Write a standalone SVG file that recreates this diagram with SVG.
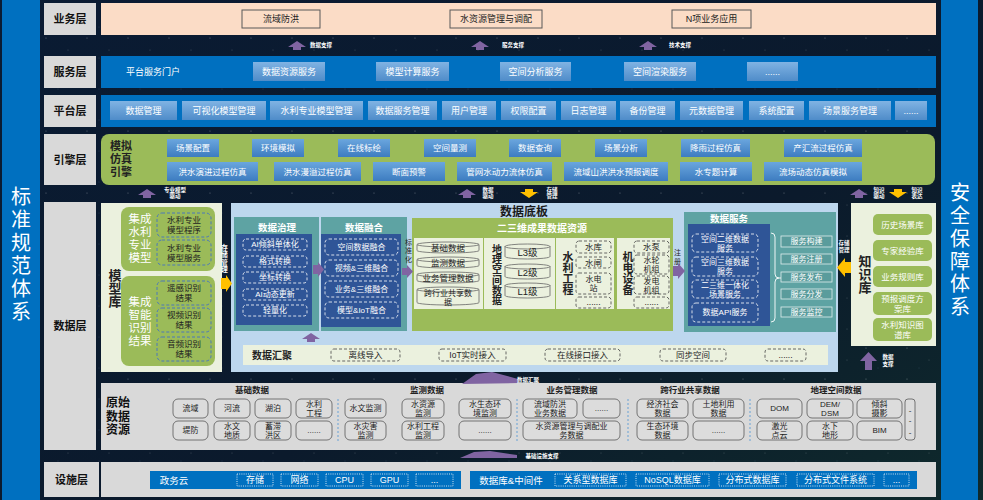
<svg xmlns="http://www.w3.org/2000/svg" width="983" height="500" viewBox="0 0 983 500">
<defs>
<linearGradient id="bg" x1="0" y1="0" x2="1" y2="1"><stop offset="0" stop-color="#0a1b33"/><stop offset="0.6" stop-color="#0b1a2c"/><stop offset="1" stop-color="#0f2a2c"/></linearGradient>
<pattern id="stars" width="41" height="31" patternUnits="userSpaceOnUse"><circle cx="5" cy="7" r="0.6" fill="#fff" opacity="0.35"/><circle cx="27" cy="19" r="0.5" fill="#fff" opacity="0.25"/><circle cx="17" cy="27" r="0.4" fill="#9cf" opacity="0.3"/></pattern>
<linearGradient id="btn" x1="0" y1="0" x2="0" y2="1"><stop offset="0" stop-color="#80b3e3"/><stop offset="1" stop-color="#4f8cc9"/></linearGradient>
<linearGradient id="ebtn" x1="0" y1="0" x2="0" y2="1"><stop offset="0" stop-color="#6aa6de"/><stop offset="1" stop-color="#3d7cc0"/></linearGradient>
<path id="up" d="M-9,2 L0,-4 L9,2 L4,2 L4,5 L-4,5 L-4,2 Z" fill="#8064a2"/>
<path id="dn" d="M-4,-4 L4,-4 L4,-1 L9,-1 L0,5 L-9,-1 L-4,-1 Z" fill="#ffc000"/>
<style>
text,tspan{font-family:"Liberation Sans","Noto Sans CJK SC",sans-serif;text-anchor:middle;dominant-baseline:central}
.v{writing-mode:vertical-rl}
.lay{fill:#d9d9d9}
.ll{font-size:11px;font-weight:bold;fill:#111}
.band{fill:#0070c0}
.b{fill:url(#btn)}
.eb{fill:url(#ebtn)}
.wt{fill:#fff;font-size:9px}
.et{fill:#fff;font-size:8.5px}
.tiny{fill:#fff;font-size:5.5px;font-weight:bold}
.big{fill:#fff;font-size:20px}
.bt{fill:none;stroke:#595959;stroke-width:1}
.btx{fill:#222;font-size:9px}
.dsh{fill:none;stroke:#fff;stroke-dasharray:3 2;stroke-width:0.8}
.dk{fill:#2f5597}
.teal{fill:#5ea3a3}
.pale{fill:#ebf1de}
.grn{fill:#9bbb59}
.gd{fill:#ebf1de;stroke:#444;stroke-dasharray:3 2;stroke-width:0.8}
.bd{fill:none;stroke:#4472c4;stroke-dasharray:3 2;stroke-width:0.9}
.cy{fill:#ebf1de;stroke:#666;stroke-width:0.8}
.rb{fill:#dcdcdc;stroke:#666;stroke-width:0.9}
.rt{font-size:8px;fill:#222}
.hd{font-size:8.5px;font-weight:bold;fill:#222}
.dt{font-size:8.5px;fill:#222}
.d8{font-size:8px;fill:#222}
.st{fill:#fff;font-size:8px}
.vt{font-size:11px;font-weight:bold;fill:#222}
.gw{fill:#fff;font-size:11.5px}
.pu{fill:#8064a2}
.ye{fill:#ffc000}
.dot{fill:none;stroke:#fff;stroke-dasharray:1 1.2;stroke-width:0.8}
.sep{stroke:#5b9bd5;stroke-dasharray:2 2;stroke-width:0.9}
.sm{font-size:7px;fill:#222}
</style>
</defs>
<rect width="983" height="500" fill="url(#bg)"/>
<rect width="983" height="500" fill="url(#stars)"/>

<g id="left-band">
<rect x="2" y="0" width="38" height="500" class="band"/>
<text class="big"><tspan x="21" y="197">标</tspan><tspan x="21" y="220">准</tspan><tspan x="21" y="243">规</tspan><tspan x="21" y="266">范</tspan><tspan x="21" y="289">体</tspan><tspan x="21" y="312">系</tspan></text>
</g>
<g id="right-band">
<rect x="941" y="0" width="37" height="500" class="band"/>
<text class="big"><tspan x="960" y="193">安</tspan><tspan x="960" y="216">全</tspan><tspan x="960" y="239">保</tspan><tspan x="960" y="261.5">障</tspan><tspan x="960" y="284">体</tspan><tspan x="960" y="306.5">系</tspan></text>
</g>

<g id="business-layer">
<rect x="44" y="3" width="52" height="32" class="lay"/><text x="70" y="19" class="ll">业务层</text>
<rect x="101" y="3" width="835" height="32" fill="#fbdcc6"/>
<rect x="242" y="10" width="78" height="18" class="bt"/><text x="281" y="19" class="btx">流域防洪</text>
<rect x="450" y="10" width="92" height="18" class="bt"/><text x="496" y="19" class="btx">水资源管理与调配</text>
<rect x="672" y="10" width="79" height="18" class="bt"/><text x="711.5" y="19" class="btx">N项业务应用</text>
</g>

<g id="service-layer">
<rect x="44" y="56" width="52" height="32" class="lay"/><text x="70" y="72" class="ll">服务层</text>
<rect x="101" y="56" width="835" height="32" class="band"/>
<text x="153" y="72" class="wt">平台服务门户</text>
<rect x="253" y="62" width="72" height="19" class="b"/><text x="289" y="71.5" class="wt">数据资源服务</text>
<rect x="376" y="62" width="73" height="19" class="b"/><text x="412.5" y="71.5" class="wt">模型计算服务</text>
<rect x="500" y="62" width="71" height="19" class="b"/><text x="535.5" y="71.5" class="wt">空间分析服务</text>
<rect x="624" y="62" width="72" height="19" class="b"/><text x="660" y="71.5" class="wt">空间渲染服务</text>
<rect x="747" y="62" width="51" height="19" class="b"/><text x="772.5" y="71.5" class="wt">......</text>
</g>

<g id="platform-layer">
<rect x="44" y="95" width="52" height="32" class="lay"/><text x="70" y="111" class="ll">平台层</text>
<rect x="101" y="95" width="835" height="32" class="band"/>
<rect x="110" y="101" width="67" height="19" class="b"/><text x="143.5" y="110.5" class="wt">数据管理</text>
<rect x="182" y="101" width="84" height="19" class="b"/><text x="224" y="110.5" class="wt">可视化模型管理</text>
<rect x="270" y="101" width="93" height="19" class="b"/><text x="316.5" y="110.5" class="wt">水利专业模型管理</text>
<rect x="368" y="101" width="69" height="19" class="b"/><text x="402.5" y="110.5" class="wt">数据服务管理</text>
<rect x="442" y="101" width="54" height="19" class="b"/><text x="469" y="110.5" class="wt">用户管理</text>
<rect x="501" y="101" width="55" height="19" class="b"/><text x="528.5" y="110.5" class="wt">权限配置</text>
<rect x="561" y="101" width="55" height="19" class="b"/><text x="588.5" y="110.5" class="wt">日志管理</text>
<rect x="620" y="101" width="55" height="19" class="b"/><text x="647.5" y="110.5" class="wt">备份管理</text>
<rect x="680" y="101" width="63" height="19" class="b"/><text x="711.5" y="110.5" class="wt">元数据管理</text>
<rect x="749" y="101" width="55" height="19" class="b"/><text x="776.5" y="110.5" class="wt">系统配置</text>
<rect x="809" y="101" width="82" height="19" class="b"/><text x="850" y="110.5" class="wt">场景服务管理</text>
<rect x="895" y="101" width="32" height="19" class="b"/><text x="911" y="110.5" class="wt">......</text>
</g>

<g id="engine-layer">
<rect x="44" y="134" width="52" height="51" class="lay"/><text x="70" y="159.5" class="ll">引擎层</text>
<rect x="101" y="134" width="834" height="51" rx="8" class="grn"/>
<text class="vt"><tspan x="121" y="146">模拟</tspan><tspan x="121" y="159">仿真</tspan><tspan x="121" y="172">引擎</tspan></text>
<rect x="167" y="139" width="52" height="18" class="eb"/><text x="193" y="148" class="et">场景配置</text>
<rect x="252" y="139" width="52" height="18" class="eb"/><text x="278" y="148" class="et">环境模拟</text>
<rect x="338" y="139" width="52" height="18" class="eb"/><text x="364" y="148" class="et">在线标绘</text>
<rect x="424" y="139" width="52" height="18" class="eb"/><text x="450" y="148" class="et">空间量测</text>
<rect x="509" y="139" width="52" height="18" class="eb"/><text x="535" y="148" class="et">数据查询</text>
<rect x="595" y="139" width="52" height="18" class="eb"/><text x="621" y="148" class="et">场景分析</text>
<rect x="681" y="139" width="69" height="18" class="eb"/><text x="715.5" y="148" class="et">降雨过程仿真</text>
<rect x="784" y="139" width="78" height="18" class="eb"/><text x="823" y="148" class="et">产汇流过程仿真</text>
<rect x="167" y="162" width="91" height="19" class="eb"/><text x="212.5" y="171.5" class="et">洪水演进过程仿真</text>
<rect x="274" y="162" width="87" height="19" class="eb"/><text x="317.5" y="171.5" class="et">洪水漫溢过程仿真</text>
<rect x="373" y="162" width="72" height="19" class="eb"/><text x="409" y="171.5" class="et">断面预警</text>
<rect x="457" y="162" width="95" height="19" class="eb"/><text x="504.5" y="171.5" class="et">管网水动力流体仿真</text>
<rect x="564" y="162" width="104" height="19" class="eb"/><text x="616" y="171.5" class="et">流域山洪洪水预报调度</text>
<rect x="680" y="162" width="72" height="19" class="eb"/><text x="716" y="171.5" class="et">水专题计算</text>
<rect x="764" y="162" width="98" height="19" class="eb"/><text x="813" y="171.5" class="et">流场动态仿真模拟</text>
</g>

<g id="data-layer-label">
<rect x="44" y="202" width="52" height="248" class="lay"/><text x="70" y="326" class="ll">数据层</text>
</g>

<g id="model-library">
<rect x="101" y="203" width="121" height="169" class="pale"/>
<text x="114" y="288" class="vt v" style="font-size:13px">模型库</text>
<rect x="121" y="207" width="94" height="64" rx="8" class="grn"/>
<text class="gw"><tspan x="140" y="219">集成</tspan><tspan x="140" y="232">水利</tspan><tspan x="140" y="245">专业</tspan><tspan x="140" y="258">模型</tspan></text>
<rect x="157" y="213" width="54" height="24" rx="5" class="bd"/><text class="dt"><tspan x="184" y="220">水利专业</tspan><tspan x="184" y="230">模型程序</tspan></text>
<rect x="157" y="240" width="54" height="25" rx="5" class="bd"/><text class="dt"><tspan x="184" y="247.5">水利专业</tspan><tspan x="184" y="257.5">模型服务</tspan></text>
<rect x="121" y="276" width="94" height="90" rx="8" class="grn"/>
<text class="gw"><tspan x="140" y="302">集成</tspan><tspan x="140" y="315">智能</tspan><tspan x="140" y="328">识别</tspan><tspan x="140" y="341">结果</tspan></text>
<rect x="157" y="281" width="54" height="24" rx="5" class="bd"/><text class="dt"><tspan x="184" y="288">遥感识别</tspan><tspan x="184" y="298">结果</tspan></text>
<rect x="157" y="308" width="54" height="24" rx="5" class="bd"/><text class="dt"><tspan x="184" y="315">视频识别</tspan><tspan x="184" y="325">结果</tspan></text>
<rect x="157" y="337" width="54" height="24" rx="5" class="bd"/><text class="dt"><tspan x="184" y="344">音频识别</tspan><tspan x="184" y="354">结果</tspan></text>
</g>

<g id="data-platform">
<rect x="231" y="203" width="607" height="169" fill="#bdd7ee"/>
<text x="524" y="212" style="font-size:12px;font-weight:bold;fill:#1a1a1a">数据底板</text>
</g>

<g id="data-governance">
<rect x="234" y="217" width="85" height="114" class="teal"/>
<text x="277" y="227" fill="#fff" style="font-size:9.5px;font-weight:bold">数据治理</text>
<rect x="236" y="234" width="76" height="91" class="dk"/>
<rect x="243" y="239" width="64" height="11" rx="3" class="dsh"/><text x="275" y="244.5" class="st">AI倾斜单体化</text>
<rect x="243" y="256" width="64" height="11" rx="3" class="dsh"/><text x="275" y="261.5" class="st">格式转换</text>
<rect x="243" y="272" width="64" height="11" rx="3" class="dsh"/><text x="275" y="277.5" class="st">坐标转换</text>
<rect x="243" y="289" width="64" height="11" rx="3" class="dsh"/><text x="275" y="294.5" class="st">AI动态更新</text>
<rect x="243" y="305" width="64" height="11" rx="3" class="dsh"/><text x="275" y="310.5" class="st">轻量化</text>
</g>

<g id="data-fusion">
<rect x="321" y="217" width="86" height="114" class="teal"/>
<text x="364" y="227" fill="#fff" style="font-size:9.5px;font-weight:bold">数据融合</text>
<rect x="321" y="234" width="80" height="93" class="dk"/>
<rect x="325" y="239" width="73" height="16" rx="4" class="dsh"/><text x="361.5" y="247" class="st">空间数据融合</text>
<rect x="325" y="260" width="73" height="16" rx="4" class="dsh"/><text x="361.5" y="268" class="st">视频&amp;三维融合</text>
<rect x="325" y="281" width="73" height="16" rx="4" class="dsh"/><text x="361.5" y="289" class="st">业务&amp;三维融合</text>
<rect x="325" y="302" width="73" height="16" rx="4" class="dsh"/><text x="361.5" y="310" class="st">模型&amp;IoT融合</text>
</g>

<g id="data-resources">
<rect x="412" y="218" width="261" height="113" class="grn"/>
<text x="542" y="228" fill="#fff" style="font-size:10px;font-weight:bold">二三维成果数据资源</text>
<rect x="414" y="238" width="69" height="71" class="pale"/>
<path class="cy" d="M417,244.5 A31,2.5 0 0 1 479,244.5 V250.5 A31,2.5 0 0 1 417,250.5 Z M417,244.5 A31,2.5 0 0 0 479,244.5"/><text x="448" y="248" class="dt">基础数据</text>
<path class="cy" d="M417,259.5 A31,2.5 0 0 1 479,259.5 V265.5 A31,2.5 0 0 1 417,265.5 Z M417,259.5 A31,2.5 0 0 0 479,259.5"/><text x="448" y="263" class="dt">监测数据</text>
<path class="cy" d="M417,274.5 A31,2.5 0 0 1 479,274.5 V280.5 A31,2.5 0 0 1 417,280.5 Z M417,274.5 A31,2.5 0 0 0 479,274.5"/><text x="448" y="278" class="dt">业务管理数据</text>
<path class="cy" d="M417,289.5 A31,2.5 0 0 1 479,289.5 V302.5 A31,2.5 0 0 1 417,302.5 Z M417,289.5 A31,2.5 0 0 0 479,289.5"/><text class="d8"><tspan x="448" y="293">跨行业共享数</tspan><tspan x="448" y="302">据</tspan></text>
<rect x="484" y="238" width="71" height="71" class="pale"/>
<text x="496" y="275" class="vt v" style="font-size:10px;letter-spacing:0.3px">地理空间数据</text>
<path class="cy" d="M505,246.5 A22.5,2.5 0 0 1 550,246.5 V256.5 A22.5,2.5 0 0 1 505,256.5 Z M505,246.5 A22.5,2.5 0 0 0 550,246.5"/><text x="527.5" y="252.5" style="font-size:9.5px;fill:#222">L3级</text>
<path class="cy" d="M505,266.5 A22.5,2.5 0 0 1 550,266.5 V276.5 A22.5,2.5 0 0 1 505,276.5 Z M505,266.5 A22.5,2.5 0 0 0 550,266.5"/><text x="527.5" y="272.5" style="font-size:9.5px;fill:#222">L2级</text>
<path class="cy" d="M505,285.5 A22.5,2.5 0 0 1 550,285.5 V295.5 A22.5,2.5 0 0 1 505,295.5 Z M505,285.5 A22.5,2.5 0 0 0 550,285.5"/><text x="527.5" y="291.5" style="font-size:9.5px;fill:#222">L1级</text>
<rect x="556" y="238" width="58" height="71" class="pale"/>
<text x="567" y="273.5" class="vt v">水利工程</text>
<rect x="576" y="241" width="35" height="12" rx="3" class="gd"/><text x="593.5" y="247" class="dt">水库</text>
<rect x="576" y="257" width="35" height="11" rx="3" class="gd"/><text x="593.5" y="262.5" class="dt">水闸</text>
<rect x="576" y="273" width="35" height="21" rx="3" class="gd"/><text class="d8"><tspan x="593.5" y="279">水电</tspan><tspan x="593.5" y="288">站</tspan></text>
<rect x="576" y="297" width="35" height="11" rx="3" class="gd"/><text x="593.5" y="302" class="dt">......</text>
<rect x="617" y="238" width="53" height="71" class="pale"/>
<text x="627" y="273.5" class="vt v">机电设备</text>
<rect x="634" y="241" width="35" height="12" rx="3" class="gd"/><text x="651.5" y="247" class="dt">水泵</text>
<rect x="634" y="255" width="35" height="19" rx="3" class="gd"/><text class="d8"><tspan x="651.5" y="260">水轮</tspan><tspan x="651.5" y="269">机组</tspan></text>
<rect x="634" y="276" width="35" height="18" rx="3" class="gd"/><text class="d8"><tspan x="651.5" y="280.5">发电</tspan><tspan x="651.5" y="289.5">机组</tspan></text>
<rect x="634" y="297" width="35" height="11" rx="3" class="gd"/><text x="651.5" y="302" class="dt">......</text>
</g>

<g id="data-service">
<rect x="684" y="212" width="152" height="120" class="teal"/>
<text x="729" y="218" fill="#fff" style="font-size:9.5px;font-weight:bold">数据服务</text>
<rect x="688" y="224" width="82" height="102" class="dk"/>
<rect x="692" y="234" width="66" height="18" rx="4" class="dsh"/><text class="st"><tspan x="725" y="238.5">空间二维数据</tspan><tspan x="725" y="247.5">服务</tspan></text>
<rect x="692" y="257" width="66" height="19" rx="4" class="dsh"/><text class="st"><tspan x="725" y="262">空间三维数据</tspan><tspan x="725" y="271">服务</tspan></text>
<rect x="692" y="280" width="66" height="18" rx="4" class="dsh"/><text class="st"><tspan x="725" y="284.5">二三维一体化</tspan><tspan x="725" y="293.5">场景服务</tspan></text>
<rect x="692" y="303" width="66" height="19" rx="4" class="dsh"/><text x="725" y="312.5" class="st">数据API服务</text>
<path d="M771,233 Q775,233 775,237 V274 Q775,278 779,278 Q775,278 775,282 V318 Q775,322 771,322 M779,278 H781" fill="none" stroke="#fff" stroke-width="0.9"/>
<rect x="781" y="236" width="51" height="11" fill="#5a9c9c" stroke="#dfeeee" stroke-width="0.8"/><text x="806.5" y="241.5" class="st">服务构建</text>
<rect x="781" y="254" width="51" height="10" fill="#5a9c9c" stroke="#dfeeee" stroke-width="0.8"/><text x="806.5" y="259" class="st">服务注册</text>
<rect x="781" y="272" width="51" height="10" fill="#5a9c9c" stroke="#dfeeee" stroke-width="0.8"/><text x="806.5" y="277" class="st">服务发布</text>
<rect x="781" y="289" width="51" height="10" fill="#5a9c9c" stroke="#dfeeee" stroke-width="0.8"/><text x="806.5" y="294" class="st">服务分发</text>
<rect x="781" y="307" width="51" height="10" fill="#5a9c9c" stroke="#dfeeee" stroke-width="0.8"/><text x="806.5" y="312" class="st">服务监控</text>
</g>

<g id="data-aggregation">
<rect x="243" y="345" width="585" height="20" class="pale"/>
<text x="272" y="355.5" style="font-size:10px;font-weight:bold;fill:#222">数据汇聚</text>
<rect x="331" y="349" width="69" height="12" rx="3" class="gd"/><text x="365.5" y="355" class="dt">离线导入</text>
<rect x="439" y="349" width="67" height="12" rx="3" class="gd"/><text x="472.5" y="355" class="dt">IoT实时接入</text>
<rect x="545" y="349" width="75" height="12" rx="3" class="gd"/><text x="582.5" y="355" class="dt">在线接口接入</text>
<rect x="660" y="349" width="66" height="12" rx="3" class="gd"/><text x="693" y="355" class="dt">同步空间</text>
<rect x="765" y="349" width="41" height="12" rx="3" class="gd"/><text x="785.5" y="355" class="dt">......</text>
</g>

<g id="knowledge-library">
<rect x="851" y="203" width="85" height="143" class="pale"/>
<text x="864" y="274" class="vt v" style="font-size:13px">知识库</text>
<rect x="873" y="214" width="59" height="21" rx="5" class="grn"/><text x="902.5" y="224.5" class="et">历史场景库</text>
<rect x="873" y="240" width="59" height="21" rx="5" class="grn"/><text x="902.5" y="250.5" class="et">专家经验库</text>
<rect x="873" y="266" width="59" height="21" rx="5" class="grn"/><text x="902.5" y="276.5" class="et">业务规则库</text>
<rect x="873" y="292" width="59" height="23" rx="5" class="grn"/><text class="et"><tspan x="902.5" y="298.5">预报调度方</tspan><tspan x="902.5" y="308.5">案库</tspan></text>
<rect x="873" y="318" width="59" height="23" rx="5" class="grn"/><text class="et"><tspan x="902.5" y="324.5">水利知识图</tspan><tspan x="902.5" y="334.5">谱库</tspan></text>
</g>

<g id="raw-data">
<rect x="101" y="383" width="835" height="67" class="lay"/>
<text style="font-size:12px;font-weight:bold;fill:#111"><tspan x="118" y="403">原始</tspan><tspan x="118" y="416.5">数据</tspan><tspan x="118" y="430">资源</tspan></text>
<text x="252" y="390" class="hd">基础数据</text>
<text x="427" y="390" class="hd">监测数据</text>
<text x="572" y="390" class="hd">业务管理数据</text>
<text x="690" y="390" class="hd">跨行业共享数据</text>
<text x="836" y="390" class="hd">地理空间数据</text>
<line x1="338" y1="399" x2="338" y2="442" class="sep"/>
<line x1="517" y1="399" x2="517" y2="442" class="sep"/>
<line x1="628" y1="399" x2="628" y2="442" class="sep"/>
<line x1="750" y1="399" x2="750" y2="442" class="sep"/>
<rect x="173" y="399" width="35" height="19" rx="5" class="rb"/><text x="190.5" y="408.5" class="rt">流域</text>
<rect x="214" y="399" width="36" height="19" rx="5" class="rb"/><text x="232" y="408.5" class="rt">河流</text>
<rect x="255" y="399" width="36" height="19" rx="5" class="rb"/><text x="273" y="408.5" class="rt">湖泊</text>
<rect x="296" y="399" width="36" height="19" rx="5" class="rb"/><text class="rt"><tspan x="314" y="404">水利</tspan><tspan x="314" y="413">工程</tspan></text>
<rect x="173" y="421" width="35" height="19" rx="5" class="rb"/><text x="190.5" y="430.5" class="rt">堤防</text>
<rect x="214" y="421" width="36" height="19" rx="5" class="rb"/><text class="rt"><tspan x="232" y="426">水文</tspan><tspan x="232" y="435">地质</tspan></text>
<rect x="255" y="421" width="36" height="19" rx="5" class="rb"/><text class="rt"><tspan x="273" y="426">蓄滞</tspan><tspan x="273" y="435">洪区</tspan></text>
<rect x="296" y="421" width="36" height="19" rx="5" class="rb"/><text x="314" y="430" class="rt">......</text>
<rect x="345" y="399" width="41" height="19" rx="5" class="rb"/><text x="365.5" y="408.5" class="rt">水文监测</text>
<rect x="402" y="399" width="42" height="19" rx="5" class="rb"/><text class="rt"><tspan x="423" y="404">水资源</tspan><tspan x="423" y="413">监测</tspan></text>
<rect x="459" y="399" width="52" height="19" rx="5" class="rb"/><text class="rt"><tspan x="485" y="404">水生态环</tspan><tspan x="485" y="413">境监测</tspan></text>
<rect x="345" y="421" width="41" height="19" rx="5" class="rb"/><text class="rt"><tspan x="365.5" y="426">水灾害</tspan><tspan x="365.5" y="435">监测</tspan></text>
<rect x="402" y="421" width="42" height="19" rx="5" class="rb"/><text class="rt"><tspan x="423" y="426">水利工程</tspan><tspan x="423" y="435">监测</tspan></text>
<rect x="459" y="421" width="52" height="19" rx="5" class="rb"/><text x="485" y="430" class="rt">......</text>
<rect x="523" y="399" width="54" height="19" rx="5" class="rb"/><text class="rt"><tspan x="550" y="404">流域防洪</tspan><tspan x="550" y="413">业务数据</tspan></text>
<rect x="583" y="399" width="37" height="19" rx="5" class="rb"/><text x="601.5" y="408" class="rt">......</text>
<rect x="523" y="421" width="97" height="19" rx="5" class="rb"/><text class="rt"><tspan x="571.5" y="426">水资源管理与调配业</tspan><tspan x="571.5" y="435">务数据</tspan></text>
<rect x="637" y="399" width="51" height="19" rx="5" class="rb"/><text class="rt"><tspan x="662.5" y="404">经济社会</tspan><tspan x="662.5" y="413">数据</tspan></text>
<rect x="693" y="399" width="51" height="19" rx="5" class="rb"/><text class="rt"><tspan x="718.5" y="404">土地利用</tspan><tspan x="718.5" y="413">数据</tspan></text>
<rect x="637" y="421" width="51" height="19" rx="5" class="rb"/><text class="rt"><tspan x="662.5" y="426">生态环境</tspan><tspan x="662.5" y="435">数据</tspan></text>
<rect x="693" y="421" width="51" height="19" rx="5" class="rb"/><text x="718.5" y="430" class="rt">......</text>
<rect x="757" y="399" width="45" height="19" rx="5" class="rb"/><text x="779.5" y="408.5" class="rt">DOM</text>
<rect x="807" y="399" width="46" height="19" rx="5" class="rb"/><text class="rt"><tspan x="830" y="404">DEM/</tspan><tspan x="830" y="413">DSM</tspan></text>
<rect x="857" y="399" width="45" height="19" rx="5" class="rb"/><text class="rt"><tspan x="879.5" y="404">倾斜</tspan><tspan x="879.5" y="413">摄影</tspan></text>
<rect x="757" y="421" width="45" height="19" rx="5" class="rb"/><text class="rt"><tspan x="779.5" y="426">激光</tspan><tspan x="779.5" y="435">点云</tspan></text>
<rect x="807" y="421" width="46" height="19" rx="5" class="rb"/><text class="rt"><tspan x="830" y="426">水下</tspan><tspan x="830" y="435">地形</tspan></text>
<rect x="857" y="421" width="45" height="19" rx="5" class="rb"/><text x="879.5" y="430.5" class="rt">BIM</text>
<rect x="905" y="399" width="10" height="41" rx="3" class="rb"/><text class="rt"><tspan x="910" y="410">-</tspan><tspan x="910" y="420">-</tspan><tspan x="910" y="432">-</tspan></text>
</g>

<g id="facility-layer">
<rect x="44" y="462" width="55" height="35" class="lay"/><text x="71.5" y="479.5" class="ll">设施层</text>
<rect x="101" y="462" width="835" height="35" class="lay"/>
<rect x="150" y="471" width="311" height="18" class="band"/>
<text x="174" y="480" class="wt" style="font-size:9.5px">政务云</text>
<rect x="237" y="474" width="36" height="12" class="dot"/><text x="255" y="480" class="wt">存储</text>
<rect x="281" y="474" width="37" height="12" class="dot"/><text x="299.5" y="480" class="wt">网络</text>
<rect x="326" y="474" width="37" height="12" class="dot"/><text x="344.5" y="480" class="wt">CPU</text>
<rect x="371" y="474" width="37" height="12" class="dot"/><text x="389.5" y="480" class="wt">GPU</text>
<rect x="416" y="474" width="37" height="12" class="dot"/><text x="434.5" y="480" class="wt">...</text>
<rect x="470" y="471" width="447" height="18" class="band"/>
<text x="511" y="480" class="wt" style="font-size:9.5px">数据库&amp;中间件</text>
<rect x="555" y="474" width="71" height="12" class="dot"/><text x="590.5" y="480" class="wt">关系型数据库</text>
<rect x="636" y="474" width="73" height="12" class="dot"/><text x="672.5" y="480" class="wt">NoSQL数据库</text>
<rect x="719" y="474" width="67" height="12" class="dot"/><text x="752.5" y="480" class="wt">分布式数据库</text>
<rect x="797" y="474" width="77" height="12" class="dot"/><text x="835.5" y="480" class="wt">分布式文件系统</text>
<rect x="884" y="474" width="25" height="12" class="dot"/><text x="896.5" y="480" class="wt">...</text>
</g>

<g id="connectors">
<use href="#up" x="297" y="45"/><text x="321" y="45" class="tiny">数据支撑</text>
<use href="#up" x="480" y="45"/><text x="513" y="45" class="tiny">服务支撑</text>
<use href="#up" x="648" y="45"/><text x="680" y="45" class="tiny">技术支撑</text>
<use href="#up" x="147" y="193"/><text class="tiny"><tspan x="175" y="189.5">专业模型</tspan><tspan x="175" y="196">驱动</tspan></text>
<use href="#up" x="467" y="193"/><text class="tiny"><tspan x="488" y="189.5">数据</tspan><tspan x="488" y="196">驱动</tspan></text>
<use href="#dn" x="529" y="193"/><text class="tiny"><tspan x="552" y="189.5">存储</tspan><tspan x="552" y="196">管理</tspan></text>
<use href="#up" x="859" y="193"/><text class="tiny"><tspan x="879" y="189.5">知识</tspan><tspan x="879" y="196">驱动</tspan></text>
<use href="#dn" x="898" y="193"/><text class="tiny"><tspan x="917" y="189.5">知识</tspan><tspan x="917" y="196">表达</tspan></text>
<text x="224" y="259" class="tiny v" style="font-size:6.5px;letter-spacing:0.8px">存储管理</text>
<path class="ye" d="M221,278 L226,278 L226,275 L232,283.5 L226,292 L226,289 L221,289 Z"/>
<path class="pu" d="M313,265 L318,265 L318,262 L324,269.5 L318,277 L318,274 L313,274 Z"/>
<text x="408" y="251.5" class="sm v" style="letter-spacing:1.5px">标准化</text>
<path class="pu" d="M402,268 L407,268 L407,265 L413,271.5 L407,278 L407,275 L402,275 Z"/>
<text x="677" y="257.5" class="sm v" style="letter-spacing:1.5px">注册</text>
<path class="pu" d="M673,266 L678,266 L678,263 L685,271 L678,279 L678,276 L673,276 Z"/>
<text class="tiny"><tspan x="844" y="243">存储</tspan><tspan x="844" y="250">管理</tspan></text>
<path class="ye" d="M851,262 L845,262 L845,258 L837,267.5 L845,277 L845,273 L851,273 Z"/>
<use href="#up" x="311" y="337"/>
<path class="pu" d="M860,361 L868.5,352 L877,361 L872,361 L872,370 L865,370 L865,361 Z"/>
<text class="tiny"><tspan x="888" y="357">数据</tspan><tspan x="888" y="364">支撑</tspan></text>
<path class="pu" d="M462,384 L476,374 L492,372 L518,379 L518,383 Z"/>
<text x="528" y="380" class="tiny">数据汇聚</text>
<path class="pu" d="M460,458 L474,452 L490,451 L517,455 L517,458 Z"/>
<text x="542" y="455.5" class="tiny">基础设施支撑</text>
</g>
</svg>
